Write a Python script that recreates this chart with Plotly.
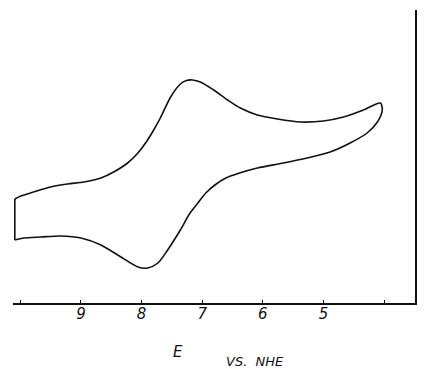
import plotly.graph_objects as go

# Closed cyclic-voltammetry loop: potential (E vs. NHE axis units) and current (arbitrary units)
potential = [10.09, 9.99, 9.78, 9.50, 9.22, 8.95, 8.67, 8.46, 8.23, 8.06, 7.90, 7.80, 7.69, 7.52,
             7.36, 7.26, 7.16, 7.03, 6.81, 6.58, 6.37, 6.09, 5.76, 5.38, 5.00, 4.67, 4.34, 4.06,
             4.03, 4.11, 4.28, 4.56, 4.89, 5.27, 5.66, 6.09, 6.41, 6.61, 6.79, 6.94, 7.07, 7.21,
             7.36, 7.57, 7.73, 7.90, 8.06, 8.34, 8.67, 9.00, 9.33, 9.66, 9.94, 10.09]
current = [10.4, 10.7, 11.1, 11.6, 11.9, 12.1, 12.5, 13.1, 14.0, 15.0, 16.3, 17.3, 18.5, 20.6,
           21.9, 22.25, 22.3, 22.1, 21.3, 20.3, 19.5, 18.8, 18.4, 18.1, 18.2, 18.6, 19.3, 20.0,
           19.3, 18.1, 17.0, 16.0, 15.1, 14.5, 14.0, 13.5, 12.95, 12.5, 11.8, 11.0, 10.0, 8.9,
           7.3, 5.3, 4.0, 3.5, 3.6, 4.6, 5.8, 6.5, 6.7, 6.6, 6.5, 6.3]

# Vertical switching segment at the left end of the scan
switch_potential = [10.09, 10.09]
switch_current = [6.3, 10.4]

tick_vals = [10, 9, 8, 7, 6, 5, 4]
tick_text = ["", "9", "8", "7", "6", "5", ""]

fig = go.Figure()
fig.add_trace(go.Scatter(
    x=potential, y=current, mode="lines",
    line=dict(color="#111111", width=1.6, shape="spline", smoothing=0.8),
    hoverinfo="skip", showlegend=False,
))
fig.add_trace(go.Scatter(
    x=switch_potential, y=switch_current, mode="lines",
    line=dict(color="#111111", width=1.6),
    hoverinfo="skip", showlegend=False,
))

fig.update_layout(
    width=427, height=369,
    margin=dict(l=13, r=12, t=10, b=66),
    paper_bgcolor="white", plot_bgcolor="white",
    xaxis=dict(
        range=[10.12, 3.49], tickvals=tick_vals, ticktext=tick_text,
        showgrid=False, zeroline=False, showline=True, linecolor="#111111", linewidth=1.5,
        ticks="inside", ticklen=3, tickcolor="#111111", ticklabelstandoff=-4,
        tickfont=dict(family="DejaVu Sans", size=15, color="#111111", style="italic"),
    ),
    yaxis=dict(
        range=[0, 29.3], side="right", showticklabels=False, ticks="",
        showgrid=False, zeroline=False, showline=True, linecolor="#111111", linewidth=1.5,
    ),
    annotations=[
        dict(text="E", xref="paper", yref="paper", x=(178 - 13) / 402, y=-(352 - 303) / 293,
             showarrow=False, xanchor="center", yanchor="middle",
             font=dict(family="DejaVu Sans", size=15, color="#111111", style="italic")),
        dict(text="VS.  NHE", xref="paper", yref="paper", x=(255 - 13) / 402, y=-(361 - 303) / 293,
             showarrow=False, xanchor="center", yanchor="middle",
             font=dict(family="DejaVu Sans", size=13, color="#111111", style="italic")),
    ],
)

fig.write_html(
    "out.html",
    config={"displayModeBar": False, "staticPlot": True},
    post_script="document.body.style.margin='0';document.body.style.overflow='hidden';",
)
